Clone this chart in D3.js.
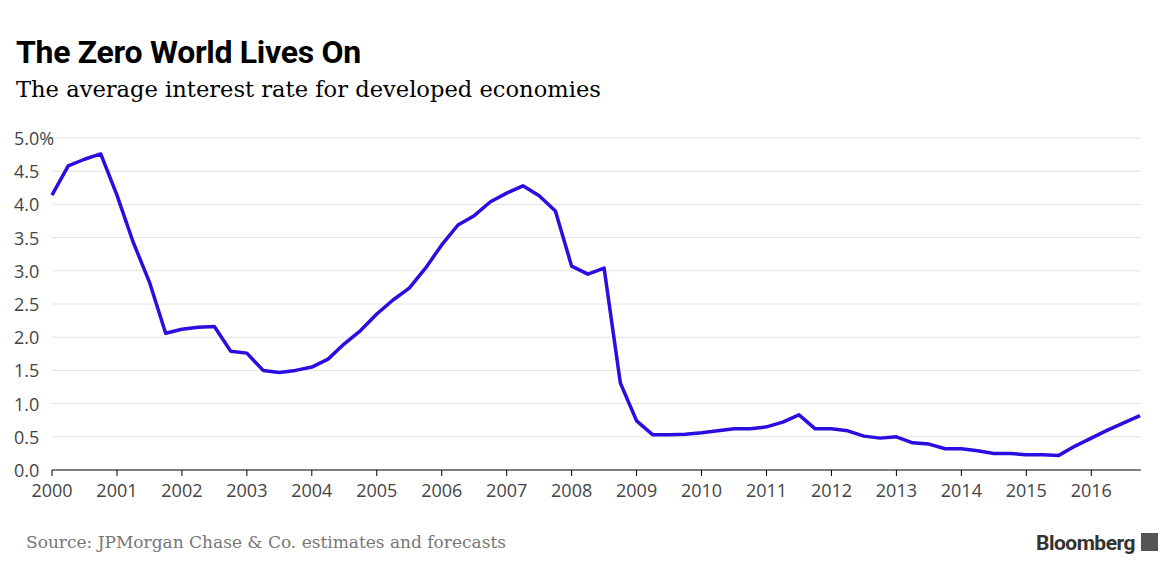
<!DOCTYPE html>
<html><head><meta charset="utf-8">
<script src="https://cdn.jsdelivr.net/npm/d3@7"></script>
<style>body{margin:0;background:#fff;}</style>
</head><body>
<script>
var startYear = 2000;
var rates = [4.14,4.58,4.68,4.76,4.14,3.43,2.83,2.06,2.12,2.15,2.16,1.79,1.76,1.50,1.47,1.50,
  1.55,1.67,1.90,2.10,2.35,2.56,2.74,3.04,3.39,3.69,3.83,4.04,4.17,4.28,4.13,3.90,
  3.07,2.95,3.04,1.31,0.74,0.53,0.53,0.54,0.56,0.59,0.62,0.62,0.65,0.72,0.83,0.62,
  0.62,0.59,0.51,0.48,0.50,0.41,0.39,0.32,0.32,0.29,0.25,0.25,0.23,0.23,0.22,0.36,
  0.48,0.60,0.71,0.82];
var yTicks = [0,0.5,1,1.5,2,2.5,3,3.5,4,4.5,5];
var xTicks = d3.range(2000, 2017);

var W = 1172, H = 586;
var svg = d3.select("body").append("svg").attr("width", W).attr("height", H);

var x = d3.scaleLinear().domain([2000, 2016.75]).range([52, 1140]);
var y = d3.scaleLinear().domain([0, 5]).range([470, 138]);

svg.append("text").attr("x", 16).attr("y", 63)
  .style("font-family", "Roboto, Arial, sans-serif").style("font-weight", "bold")
  .style("font-size", "32px").style("letter-spacing", "-0.3px").text("The Zero World Lives On");
svg.append("text").attr("x", 16).attr("y", 97)
  .style("font-family", "'DejaVu Serif', Georgia, serif").style("font-size", "22.6px")
  .text("The average interest rate for developed economies");

// grid
svg.selectAll(".grid").data(yTicks).enter().append("line")
  .attr("x1", 52).attr("x2", 1141).attr("y1", d => y(d)).attr("y2", d => y(d))
  .style("stroke", d => d === 0 ? "#000" : "#e3e3e3").style("stroke-width", 1);

svg.selectAll(".yl").data(yTicks).enter().append("text")
  .attr("x", 14).attr("y", d => y(d) + 7)
  .style("font-family", "'Open Sans', Arial, sans-serif").style("font-size", "18px").style("fill", "#444")
  .text(d => d === 5 ? "5.0%" : d.toFixed(1));

svg.selectAll(".xt").data(xTicks).enter().append("line")
  .attr("x1", d => x(d)).attr("x2", d => x(d)).attr("y1", 470).attr("y2", 476)
  .style("stroke", "#000");
svg.selectAll(".xl").data(xTicks).enter().append("text")
  .attr("x", d => x(d)).attr("y", 497).attr("text-anchor", "middle")
  .style("font-family", "'Open Sans', Arial, sans-serif").style("font-size", "18px").style("fill", "#444")
  .text(d => d);

var line = d3.line().x((d, i) => x(startYear + i * 0.25)).y(d => y(d));
svg.append("path").datum(rates).attr("d", line)
  .style("fill", "none").style("stroke", "#2a0ee0").style("stroke-width", 3.5)
  .style("stroke-linejoin", "round");

svg.append("text").attr("x", 26).attr("y", 548)
  .style("font-family", "'DejaVu Serif', Georgia, serif").style("font-size", "17px").style("fill", "#777")
  .text("Source: JPMorgan Chase & Co. estimates and forecasts");
svg.append("text").attr("x", 1135).attr("y", 550).attr("text-anchor", "end")
  .style("font-family", "Roboto, Arial, sans-serif").style("font-weight", "bold")
  .style("font-size", "21px").style("fill", "#333").style("letter-spacing", "-0.5px").text("Bloomberg");
svg.append("rect").attr("x", 1141).attr("y", 533).attr("width", 17).attr("height", 18).style("fill", "#555");
</script>
</body></html>
